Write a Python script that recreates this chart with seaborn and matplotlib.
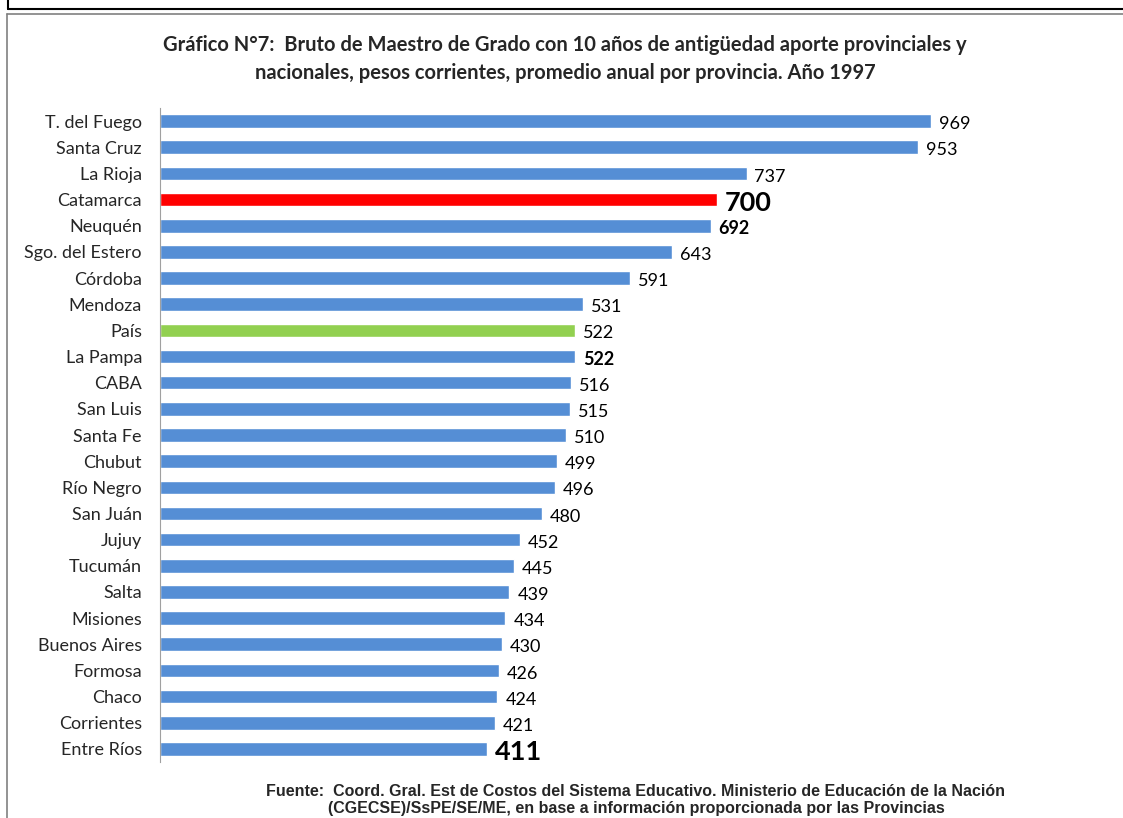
import seaborn as sns
import matplotlib.pyplot as plt
import pandas as pd
from matplotlib.lines import Line2D

provincias = ['T. del Fuego', 'Santa Cruz', 'La Rioja', 'Catamarca', 'Neuquén',
              'Sgo. del Estero', 'Córdoba', 'Mendoza', 'País', 'La Pampa', 'CABA',
              'San Luis', 'Santa Fe', 'Chubut', 'Río Negro', 'San Juán', 'Jujuy',
              'Tucumán', 'Salta', 'Misiones', 'Buenos Aires', 'Formosa', 'Chaco',
              'Corrientes', 'Entre Ríos']
valores = [969, 953, 737, 700, 692, 643, 591, 531, 522, 522, 516, 515, 510,
           499, 496, 480, 452, 445, 439, 434, 430, 426, 424, 421, 411]

azul = '#558ED5'
colores = {p: azul for p in provincias}
colores['Catamarca'] = '#FF0000'
colores['País'] = '#92D050'

# etiquetas destacadas: (peso, tamaño)
destacados = {'Catamarca': ('bold', 19.5), 'Entre Ríos': ('bold', 19.5),
              'Neuquén': ('bold', 13), 'La Pampa': ('bold', 13)}

df = pd.DataFrame({'provincia': provincias, 'valor': valores})

sns.set_style('white')
plt.rcParams['font.family'] = ['Lato', 'DejaVu Sans']

fig = plt.figure(figsize=(11.23, 8.18), dpi=100)
W, H = 1123, 818
ax = fig.add_axes([160 / W, 1 - 762 / H, (1115 - 160) / W, (762 - 108) / H])

sns.barplot(data=df, x='valor', y='provincia', hue='provincia', palette=colores,
            orient='h', width=0.52, legend=False, ax=ax, saturation=1)

for i, (p, v) in enumerate(zip(provincias, valores)):
    peso, tam = destacados.get(p, ('normal', 13))
    ax.text(v + 10, i + 0.12, str(v), va='center', ha='left',
            fontsize=tam, fontweight=peso, color='black')

ax.set_xlim(0, 1200)
ax.set_ylim(24.5, -0.5)
ax.set_xlabel('')
ax.set_ylabel('')
ax.set_xticks([])
ax.tick_params(axis='y', length=0, labelsize=13, pad=13)
for s in ['top', 'right', 'bottom']:
    ax.spines[s].set_visible(False)
ax.spines['left'].set_color('#A0A0A0')
ax.spines['left'].set_linewidth(0.8)

fig.text(565 / W, 1 - 45 / H, 'Gráfico N°7:  Bruto de Maestro de Grado con 10 años de antigüedad aporte provinciales y',
         ha='center', va='center', fontsize=14.5, fontweight='bold')
fig.text(565 / W, 1 - 73 / H, 'nacionales, pesos corrientes, promedio anual por provincia. Año 1997',
         ha='center', va='center', fontsize=14.5, fontweight='bold')

fig.text(636 / W, 1 - 791 / H, 'Fuente:  Coord. Gral. Est de Costos del Sistema Educativo. Ministerio de Educación de la Nación',
         ha='center', va='center', fontsize=11.5, fontweight='bold', family=['Liberation Sans', 'DejaVu Sans'])
fig.text(636 / W, 1 - 809 / H, '(CGECSE)/SsPE/SE/ME, en base a información proporcionada por las Provincias',
         ha='center', va='center', fontsize=11.5, fontweight='bold', family=['Liberation Sans', 'DejaVu Sans'])

# marcos
fig.add_artist(Line2D([8 / W, 1], [1 - 9 / H, 1 - 9 / H], color='black', lw=1.5))
fig.add_artist(Line2D([8 / W, 8 / W], [1, 1 - 9 / H], color='black', lw=1.5))
fig.add_artist(Line2D([7 / W, 1], [1 - 14 / H, 1 - 14 / H], color='#808080', lw=1.2))
fig.add_artist(Line2D([7 / W, 7 / W], [1 - 14 / H, 0], color='#808080', lw=1.2))

fig.savefig('out.png', dpi=100)
